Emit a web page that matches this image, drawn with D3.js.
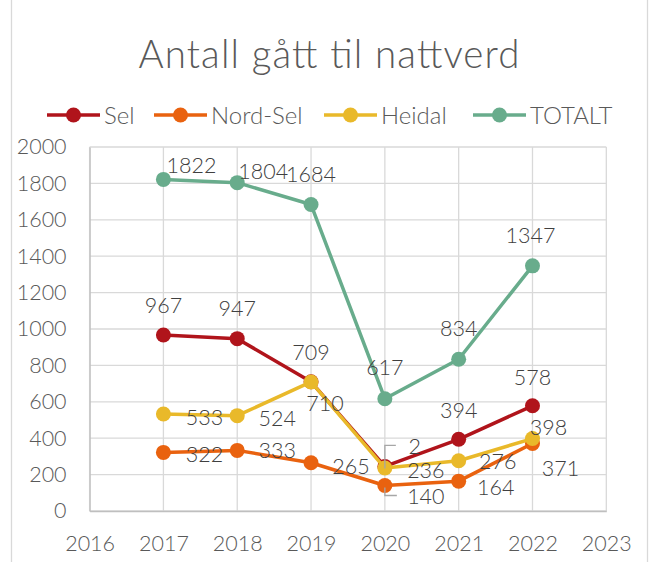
<!DOCTYPE html>
<html lang="no">
<head>
<meta charset="UTF-8">
<title>Antall gått til nattverd</title>
<script src="https://cdn.jsdelivr.net/npm/d3@7/dist/d3.min.js"></script>
<style>
  body { margin: 0; background: #fff; }
  text { font-family: Lato, "Liberation Sans", sans-serif; font-weight: 300; }
</style>
</head>
<body>
<script>
// data
var years = [2017, 2018, 2019, 2020, 2021, 2022];
var sel = [967, 947, 710, 245, 394, 578];
var nordSel = [322, 333, 265, 140, 164, 371];
var heidal = [533, 524, 709, 236, 276, 398];
var totalt = [1822, 1804, 1684, 617, 834, 1347];
// the Sel label for 2020 is shown as "2" in the source chart
var selLabels = ["967", "947", "710", "2", "394", "578"];
var xTicks = [2016, 2017, 2018, 2019, 2020, 2021, 2022, 2023];
var yTicks = [0, 200, 400, 600, 800, 1000, 1200, 1400, 1600, 1800, 2000];

var series = [
  {name: "Sel", values: sel, labels: selLabels, color: "#b0141b"},
  {name: "Nord-Sel", values: nordSel, color: "#e9620f"},
  {name: "Heidal", values: heidal, color: "#e9b92a"},
  {name: "TOTALT", values: totalt, color: "#68ac8c"}
];

// label offsets (label centre relative to the point), per series and year
var labelPos = {
  "Sel":      [[0, -30], [0, -30], [14, 21], [30, -20], [0, -29], [0, -29]],
  "Nord-Sel": [[41, 2], [40, 0], [40, 3], [41, 11], [37, 6], [28, 25]],
  "Heidal":   [[41, 3], [40, 3], [0, -30], [41, 2], [39, 0], [16, -11]],
  "TOTALT":   [[28, -14], [26, -11], [0, -30], [0, -31], [0, -31], [-2, -31]]
};

var W = 651, H = 562;
var svg = d3.select("body").append("svg")
    .attr("width", W)
    .attr("height", H);

// outer chart border
svg.append("rect")
    .attr("x", 11.5).attr("y", -5)
    .attr("width", 636).attr("height", H + 10)
    .attr("fill", "none")
    .attr("stroke", "#d9d9d9")
    .attr("stroke-width", 1.3);

var x = d3.scaleLinear().domain([2016, 2023]).range([89.6, 606.3]);
var y = d3.scaleLinear().domain([0, 2000]).range([511, 147]);

// title
svg.append("text")
    .attr("x", 329).attr("y", 68)
    .attr("text-anchor", "middle")
    .attr("font-size", 38.5)
    .attr("textLength", 381)
    .attr("lengthAdjust", "spacing")
    .attr("fill", "#595959")
    .text("Antall gått til nattverd");

// grid
var grid = svg.append("g");
grid.selectAll(".hg").data(yTicks).enter().append("line")
    .attr("x1", x(2016)).attr("x2", x(2023))
    .attr("y1", function (d) { return y(d); })
    .attr("y2", function (d) { return y(d); })
    .attr("stroke", "#d9d9d9").attr("stroke-width", 1.3);
grid.selectAll(".vg").data(xTicks).enter().append("line")
    .attr("x1", function (d) { return x(d); })
    .attr("x2", function (d) { return x(d); })
    .attr("y1", y(0)).attr("y2", y(2000))
    .attr("stroke", "#d9d9d9").attr("stroke-width", 1.3);

// axes
var yAxis = svg.append("g")
    .attr("transform", "translate(" + x(2016) + ",0)")
    .call(d3.axisLeft(y).tickValues(yTicks).tickFormat(d3.format("d")).tickSize(0).tickPadding(23));
var xAxis = svg.append("g")
    .attr("transform", "translate(0," + y(0) + ")")
    .call(d3.axisBottom(x).tickValues(xTicks).tickFormat(d3.format("d")).tickSize(0).tickPadding(25));
[yAxis, xAxis].forEach(function (a) {
  a.select(".domain").attr("stroke", "#bfbfbf").attr("stroke-width", 1.3);
  a.selectAll("text").attr("font-size", 21.5).attr("fill", "#595959")
      .attr("font-family", "Lato, sans-serif").attr("font-weight", 300);
});

// lines + markers
var line = d3.line()
    .x(function (d, i) { return x(years[i]); })
    .y(function (d) { return y(d); });

series.forEach(function (s) {
  var g = svg.append("g");
  g.append("path")
      .attr("d", line(s.values))
      .attr("fill", "none")
      .attr("stroke", s.color)
      .attr("stroke-width", 3.5)
      .attr("stroke-linejoin", "round");
  g.selectAll("circle").data(s.values).enter().append("circle")
      .attr("cx", function (d, i) { return x(years[i]); })
      .attr("cy", function (d) { return y(d); })
      .attr("r", 7.5)
      .attr("fill", s.color);
});

// leader lines for the crowded 2020 labels
var px = x(2020), pSel = y(sel[3]), pNord = y(nordSel[3]);
svg.append("path")
    .attr("d", "M" + px + "," + (pSel + 2) + "V" + (pSel - 21) + "H" + (px + 11))
    .attr("fill", "none").attr("stroke", "#a6a6a6").attr("stroke-width", 1.3);
svg.append("path")
    .attr("d", "M" + px + "," + (pNord + 2) + "V" + (pNord + 10) + "H" + (px + 12))
    .attr("fill", "none").attr("stroke", "#a6a6a6").attr("stroke-width", 1.3);

// data labels
series.forEach(function (s) {
  svg.append("g").selectAll("text").data(s.values).enter().append("text")
      .attr("x", function (d, i) { return x(years[i]) + labelPos[s.name][i][0]; })
      .attr("y", function (d, i) { return y(d) + labelPos[s.name][i][1]; })
      .attr("dy", "0.36em")
      .attr("text-anchor", "middle")
      .attr("font-size", 21.5)
      .attr("fill", "#404040")
      .text(function (d, i) { return s.labels ? s.labels[i] : d; });
});

// legend
var legendX = [47, 154, 324, 473];
var legend = svg.append("g");
series.forEach(function (s, i) {
  var g = legend.append("g").attr("transform", "translate(" + legendX[i] + ",115)");
  g.append("line").attr("x1", 0).attr("x2", 53).attr("y1", 0).attr("y2", 0)
      .attr("stroke", s.color).attr("stroke-width", 3.5);
  g.append("circle").attr("cx", 26.5).attr("cy", 0).attr("r", 7.5).attr("fill", s.color);
  g.append("text").attr("x", 57).attr("y", 0).attr("dy", "0.36em")
      .attr("font-size", 24).attr("fill", "#595959")
      .text(s.name);
});
</script>
</body>
</html>
